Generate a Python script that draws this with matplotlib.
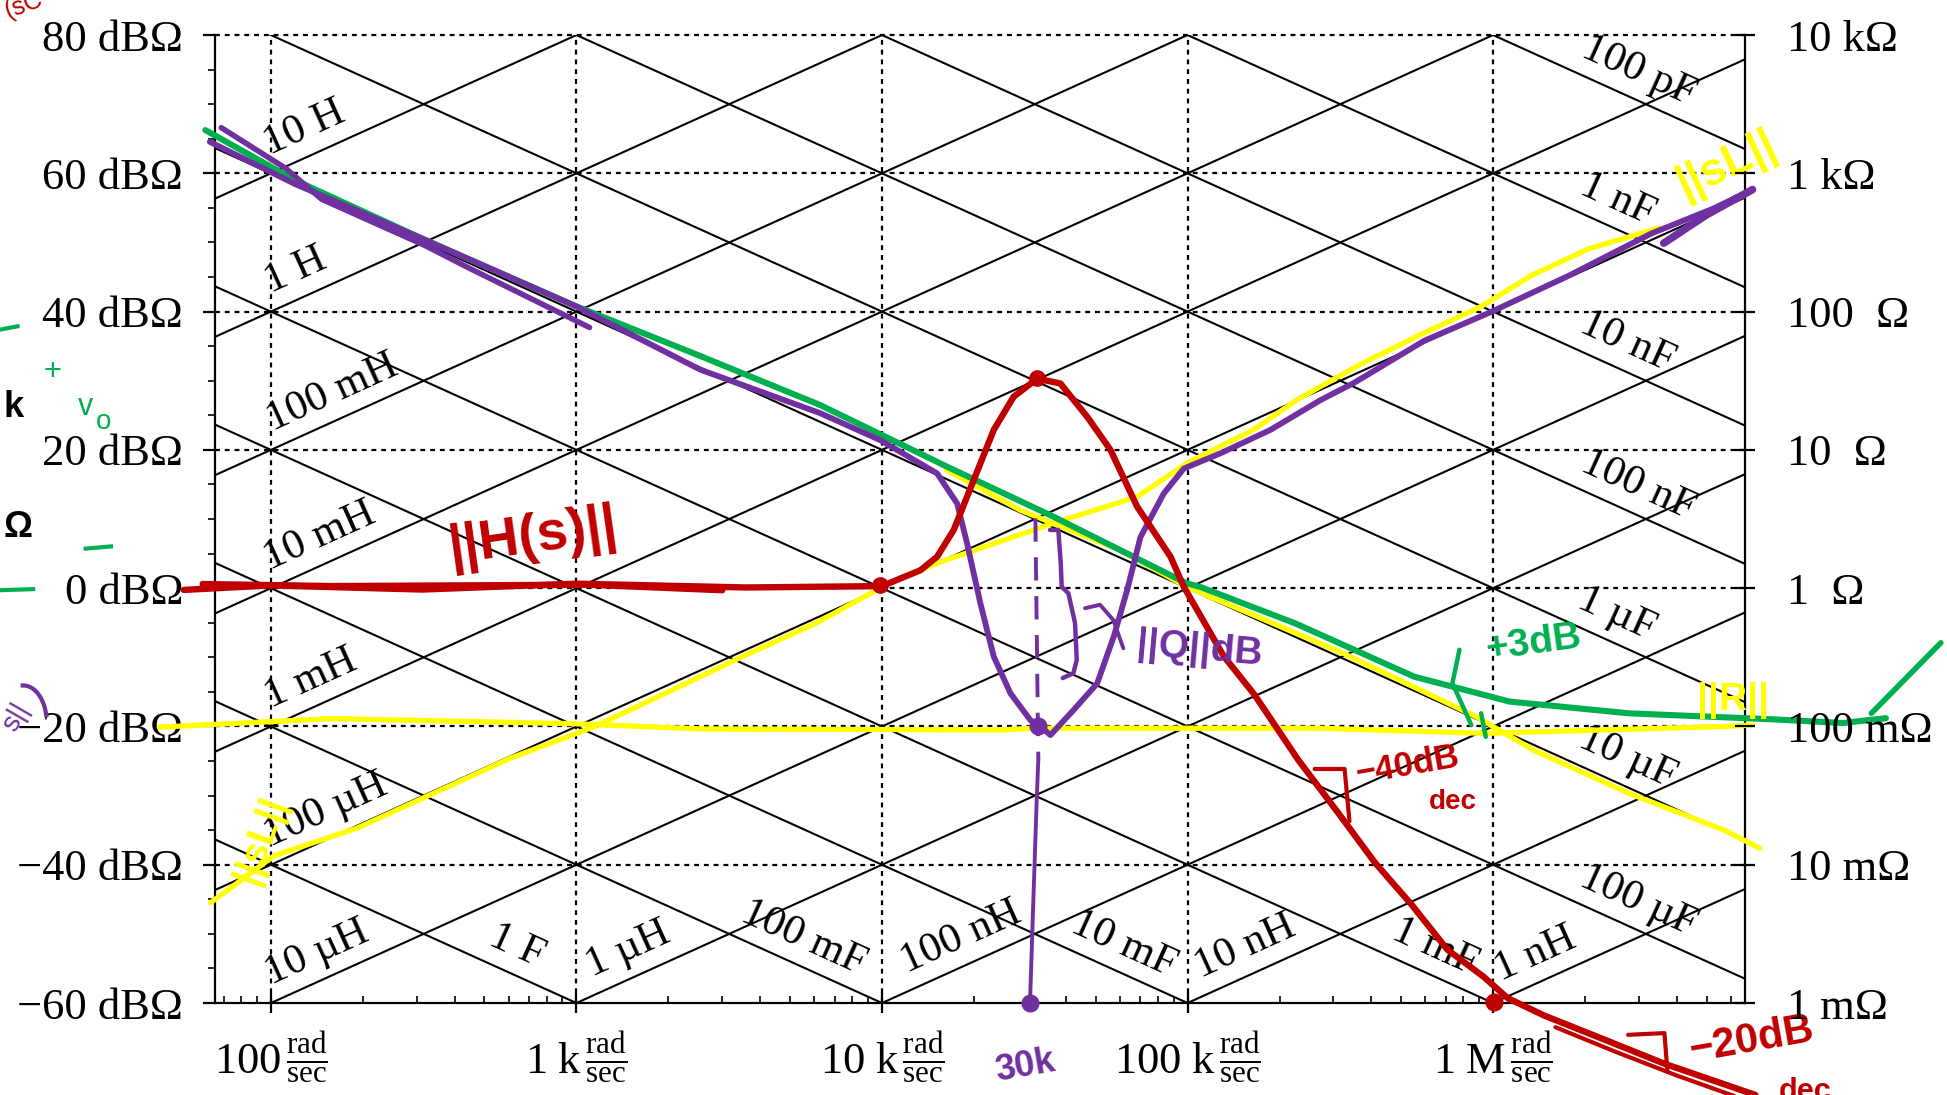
import numpy as np
import matplotlib.pyplot as plt

plt.rcParams['font.family'] = ['Liberation Serif', 'DejaVu Serif']
plt.rcParams['mathtext.fontset'] = 'custom'
plt.rcParams['mathtext.rm'] = 'Liberation Serif'
plt.rcParams['mathtext.it'] = 'Liberation Serif:italic'
plt.rcParams['axes.unicode_minus'] = True

# chart frame
w_min, w_max = 65.6, 6.68e6
db_min, db_max = -60, 80

x_ticks = [1e2, 1e3, 1e4, 1e5, 1e6]
x_names = ['100', '1 k', '10 k', '100 k', '1 M']
y_ticks = [80, 60, 40, 20, 0, -20, -40, -60]
left_labels = ['80 dBΩ', '60 dBΩ', '40 dBΩ', '20 dBΩ', '0 dBΩ',
               '\u221220 dBΩ', '\u221240 dBΩ', '\u221260 dBΩ']
right_labels = ['10 kΩ', '1 kΩ', '100  Ω', '10  Ω', '1  Ω',
                '100 mΩ', '10 mΩ', '1 mΩ']

# reactance lines
ind_names = ['10 H', '1 H', '100 mH', '10 mH', '1 mH', '100 µH', '10 µH',
             '1 µH', '100 nH', '10 nH', '1 nH']
ind_values = [10, 1, 0.1, 1e-2, 1e-3, 1e-4, 1e-5, 1e-6, 1e-7, 1e-8, 1e-9]
ind_label_logw = [2.11, 2.08, 2.2, 2.16, 2.13, 2.18, 2.15, 3.17, 4.26, 5.19, 6.14]

cap_names = ['100 pF', '1 nF', '10 nF', '100 nF', '1 µF', '10 µF', '100 µF',
             '1 mF', '10 mF', '100 mF', '1 F']
cap_values = [1e-10, 1e-9, 1e-8, 1e-7, 1e-6, 1e-5, 1e-4, 1e-3, 1e-2, 1e-1, 1]
cap_label_logw = [6.476, 6.407, 6.439, 6.476, 6.403, 6.44, 6.476, 5.81, 4.79, 3.743, 2.804]

# hand drawn curves (rad/s, dB)
red_w = [51.9, 100, 313, 1000, 3573, 10000, 13370, 15150, 17160, 19950, 23220,
         26980, 32200, 38380, 42420, 46930, 55930, 68390, 87970, 97230, 131200,
         164900, 230000, 312400, 410600, 539300, 709400, 931100, 1117000,
         1468000, 2316000, 3648000, 5752000, 7219000]
red_db = [-0.25, 0.4, -0.2, 0.65, 0.1, 0.3, 2.6, 4.55, 8.4, 15.6, 22.9,
          27.7, 30.3, 29.6, 27.2, 24.8, 20.0, 11.8, 4.55, 0.2, -9.8,
          -15.3, -24.8, -32.6, -39.7, -45.7, -52.3, -56.2, -59.3,
          -61.8, -65.3, -68.8, -71.8, -73.3]
red2_w = [59.8, 158.5, 1100, 3000]
red2_db = [0.6, 0.3, 0.5, -0.3]
red3_w = [1600000, 2500000, 4000000, 6200000]
red3_db = [-63.5, -67.0, -70.5, -73.5]

purple_a_w = [68.8, 112, 146.6, 318, 445, 1104]
purple_a_db = [66.6, 60.7, 56.25, 49.6, 46.3, 37.7]
purple_b_w = [63.1, 119.8, 307.4, 998, 2543, 6286, 9879, 15150, 17620, 18990,
              20990, 23220, 26320, 30610, 33010, 35580, 42420, 50580, 57350,
              63440, 70140, 83620, 97230, 128100, 186900, 272300, 350800,
              596000, 979500, 1770000, 3296000, 5257000, 7063000]
purple_b_db = [64.56, 58.46, 50.7, 40.75, 31.6, 25.3, 21.4, 16.6, 12.25, 6.47,
               -2.2, -9.9, -15.2, -19.1, -20.0, -21.25, -17.6, -13.8, -7.0,
               -0.28, 7.4, 13.7, 17.3, 19.5, 22.9, 27.2, 29.7,
               35.8, 39.9, 45.2, 51.3, 54.9, 57.65]
purple_hook_w = [7063000, 5000000, 3618000]
purple_hook_db = [57.65, 54.0, 49.9]
purple_dash_w = [31770, 32480]
purple_dash_db = [10.1, -24.8]
purple_drop_w = [32480, 32090, 31290, 30510]
purple_drop_db = [-24.8, -30.6, -45.1, -60.0]
brace_w = [35470, 37770, 38460, 38740, 40740, 42840, 43390, 42290, 39040]
brace_db = [8.42, 8.42, 3.6, 0.2, -0.74, -5.08, -10.4, -12.3, -13.0]
pointer_w = [46180, 51710, 57150, 61660]
pointer_db = [-2.9, -2.4, -4.6, -8.7]

yellow_h_w = [43.1, 157.8, 981, 2564, 24320, 31190, 271700, 946400, 5690000, 7070000]
yellow_h_db = [-20.1, -18.86, -19.6, -20.36, -20.5, -20.26, -20.26, -21.0, -20.0, -19.8]
yellow_l_w = [63.4, 102.4, 191.4, 340.9, 606.6, 1132, 1587, 3423, 6095, 10340,
              15090, 36390, 68270, 99410, 164000, 233100, 372400, 593500,
              918400, 1331000, 2059000, 3494000]
yellow_l_db = [-45.5, -38.7, -34.7, -29.66, -24.6, -20.1, -17.1, -10.07, -5.03, 0.5,
               3.6, 9.4, 13.2, 18.07, 22.9, 27.5, 32.5, 36.9,
               40.8, 45.2, 49.1, 52.1]
yellow_c_w = [16280, 28290, 60120, 99400, 271700, 322800, 881300, 1354000,
              2780000, 5690000, 7450000]
yellow_c_db = [17.1, 11.3, 5.5, 0.2, -8.0, -9.42, -18.6, -23.4, -29.66, -34.97, -37.6]

green_w = [61, 119.4, 306, 995, 2535, 6266, 16280, 36390, 99400, 109900, 225400,
           552000, 1132000, 2780000, 8150000, 13970000, 19300000]
green_db = [66.25, 59.05, 50.75, 40.8, 33.6, 26.5, 17.6, 10.34, 0.7, 0.19, -5.1,
            -12.8, -16.4, -18.1, -18.96, -19.5, -18.8]
green_tick_w = [17300000, 29200000]
green_tick_db = [-18.1, -7.9]
green_arc_w = [776000, 736000, 849000]
green_arc_db = [-8.9, -13.75, -19.8]
green_mark_w = [913500, 946400]
green_mark_db = [-18.1, -21.5]

slope40_w = [260600, 326600, 338800]
slope40_db = [-26.15, -26.15, -33.7]
slope20_w = [2767000, 3637000, 3720000]
slope20_db = [-64.6, -64.35, -69.9]

RED, PURPLE, GREEN, YELLOW = '#C00000', '#7030A0', '#00B050', '#FFFF00'
HAND = ['Liberation Sans Narrow', 'Liberation Sans', 'DejaVu Sans']

fig = plt.figure(figsize=(19.47, 10.95), dpi=100)
ax = fig.add_axes([0.1104, 0.0840, 0.7859, 0.884])
ax.set_xscale('log')
ax.set_xlim(w_min, w_max)
ax.set_ylim(db_min, db_max)

for s in ['left', 'bottom', 'right']:
    ax.spines[s].set_linewidth(1.6)
ax.spines['top'].set_visible(False)

# dotted grid
for y in y_ticks[:-1]:
    ax.plot([w_min, w_max], [y, y], color='k', lw=1.6, ls=(0, (2.2, 2.2)),
            clip_on=False, zorder=1)
for x in x_ticks:
    ax.plot([x, x], [db_min, db_max], color='k', lw=1.6, ls=(0, (2.2, 2.2)),
            clip_on=False, zorder=1)

# slope angle on screen
p1 = ax.transData.transform((1e3, 0))
p2 = ax.transData.transform((1e4, 20))
ang = np.degrees(np.arctan2(p2[1] - p1[1], p2[0] - p1[0]))

ends = np.array([w_min, w_max])
for name, L, lw_ in zip(ind_names, ind_values, ind_label_logw):
    ax.plot(ends, 20 * np.log10(ends * L), color='k', lw=1.5, zorder=2)
    wl = 10 ** lw_
    ax.text(wl, 20 * np.log10(wl * L) + 4.3, name, rotation=ang, rotation_mode='anchor',
            ha='center', va='center', fontsize=31, zorder=3)
for name, C, lw_ in zip(cap_names, cap_values, cap_label_logw):
    ax.plot(ends, -20 * np.log10(ends * C), color='k', lw=1.5, zorder=2)
    wl = 10 ** lw_
    ax.text(wl, -20 * np.log10(wl * C) + 4.3, name, rotation=-ang, rotation_mode='anchor',
            ha='center', va='center', fontsize=31, zorder=3)

# axes ticks
ax.set_xticks(x_ticks)
ax.set_xticklabels([r'$\mathrm{' + n.replace(' ', r'\ ') + r'}\,\frac{\mathrm{rad}}{\mathrm{sec}}$'
                    for n in x_names], fontsize=32)
ax.set_xticks([m * d for d in [1e1, 1e2, 1e3, 1e4, 1e5, 1e6] for m in range(2, 10)
               if w_min < m * d < w_max], minor=True)
ax.xaxis.set_minor_formatter(plt.NullFormatter())
ax.tick_params(axis='x', which='major', direction='inout', length=14, width=1.6, pad=12)
ax.tick_params(axis='x', which='minor', direction='in', length=5, width=1.2)
ax.set_yticks(y_ticks)
ax.set_yticklabels(left_labels, fontsize=32)
ax.set_yticks(np.arange(-55, 80, 5), minor=True)
ax.tick_params(axis='y', which='major', direction='out', length=9, width=1.6, pad=14)
ax.tick_params(axis='y', which='minor', direction='out', length=5, width=1.2)

ax2 = ax.twinx()
ax2.set_ylim(db_min, db_max)
ax2.set_yticks(y_ticks)
ax2.set_yticklabels(right_labels, fontsize=32)
ax2.tick_params(axis='y', direction='inout', length=14, width=1.6, pad=23)
for s in ax2.spines.values():
    s.set_visible(False)

# hand drawn strokes
def stroke(w, db, color, lw=4.0, **kw):
    ax.plot(w, db, color=color, lw=lw, solid_capstyle='round', solid_joinstyle='round',
            clip_on=False, zorder=kw.pop('zorder', 6), **kw)

stroke(yellow_h_w, yellow_h_db, YELLOW, lw=3.8, zorder=5)
stroke(yellow_l_w, yellow_l_db, YELLOW, lw=3.8, zorder=5)
stroke(yellow_c_w, yellow_c_db, YELLOW, lw=3.8, zorder=5)
stroke(green_w, green_db, GREEN, lw=4.4)
stroke(green_tick_w, green_tick_db, GREEN)
stroke(green_arc_w, green_arc_db, GREEN, lw=3.2)
stroke(green_mark_w, green_mark_db, GREEN, lw=3.2)
stroke(purple_a_w, purple_a_db, PURPLE, zorder=7)
stroke(purple_b_w, purple_b_db, PURPLE, lw=4.2, zorder=7)
stroke(purple_hook_w, purple_hook_db, PURPLE, lw=5.5, zorder=7)
ax.plot(purple_dash_w, purple_dash_db, color=PURPLE, lw=2.8, ls=(0, (6, 4)), zorder=7)
stroke(purple_drop_w, purple_drop_db, PURPLE, lw=2.8, zorder=7)
stroke(brace_w, brace_db, PURPLE, lw=3.2, zorder=7)
stroke(pointer_w, pointer_db, PURPLE, lw=2.8, zorder=7)
stroke(red_w, red_db, RED, lw=4.6, zorder=8)
stroke(red2_w, red2_db, RED, lw=4.6, zorder=8)
stroke(red3_w, red3_db, RED, lw=3.0, zorder=8)
stroke(slope40_w, slope40_db, RED, lw=3.0, zorder=8)
stroke(slope20_w, slope20_db, RED, lw=3.0, zorder=8)

ax.plot([32090, 9851], [30.35, 0.43], 'o', color=RED, ms=11, zorder=9)
ax.plot([1007000], [-59.8], 'o', color=RED, ms=12, zorder=9, clip_on=False)
ax.plot([32480, 30510], [-20.0, -60.0], 'o', color=PURPLE, ms=12, zorder=9, clip_on=False)

def note(w, db, s, color, size, rot=0):
    ax.text(w, db, s, color=color, fontsize=size, rotation=rot, family=HAND,
            weight='bold', ha='center', va='center', clip_on=False, zorder=10)

note(721, 7.3, '||H(s)||', RED, 40, 8)
note(109600, -9.0, '||Q||dB', PURPLE, 28, -5)
note(1357000, -8.0, '+3dB', GREEN, 28, 8)
note(6100000, -16.2, '||R||', YELLOW, 28)
note(5800000, 61.2, '||sL||', YELLOW, 33, 25)
note(92.7, -36.4, '||sL||', YELLOW, 28, 70)
note(524000, -25.6, '\u221240dB', RED, 25, 10)
note(738000, -30.9, 'dec', RED, 20)
note(7000000, -65.4, '\u221220dB', RED, 30, 10)
note(10500000, -72.8, 'dec', RED, 22)
note(29480, -69.2, '30k', PURPLE, 26, 10)

# cropped scribbles in the left margin
fig.text(0.012, 0.995, '(sC', color=RED, fontsize=18, family=HAND, rotation=20,
         ha='center', va='center')
fig.text(0.027, 0.66, '+', color=GREEN, fontsize=22, family=HAND, ha='center', va='center')
fig.text(0.044, 0.628, 'v', color=GREEN, fontsize=22, family=HAND, ha='center', va='center')
fig.text(0.053, 0.615, 'o', color=GREEN, fontsize=20, family=HAND, ha='center', va='center')
fig.text(0.007, 0.628, 'k', color='k', fontsize=26, family=HAND, weight='bold',
         ha='center', va='center')
fig.text(0.009, 0.518, 'Ω', color='k', fontsize=26, family=HAND, weight='bold',
         ha='center', va='center')
fig.text(0.008, 0.345, 's||', color=PURPLE, fontsize=20, family=HAND, rotation=60,
         ha='center', va='center')
fig.add_artist(plt.Line2D([0, 0.009], [0.699, 0.702], color=GREEN, lw=3))
fig.add_artist(plt.Line2D([0.044, 0.057], [0.499, 0.501], color=GREEN, lw=3))
fig.add_artist(plt.Line2D([0, 0.017], [0.461, 0.462], color=GREEN, lw=3))
t = np.linspace(0.2, 1.6, 20)
fig.add_artist(plt.Line2D(0.012 * np.cos(t) + 0.012, 0.034 * np.sin(t) + 0.34,
                          color=PURPLE, lw=3))

fig.savefig('out.png', dpi=100)
